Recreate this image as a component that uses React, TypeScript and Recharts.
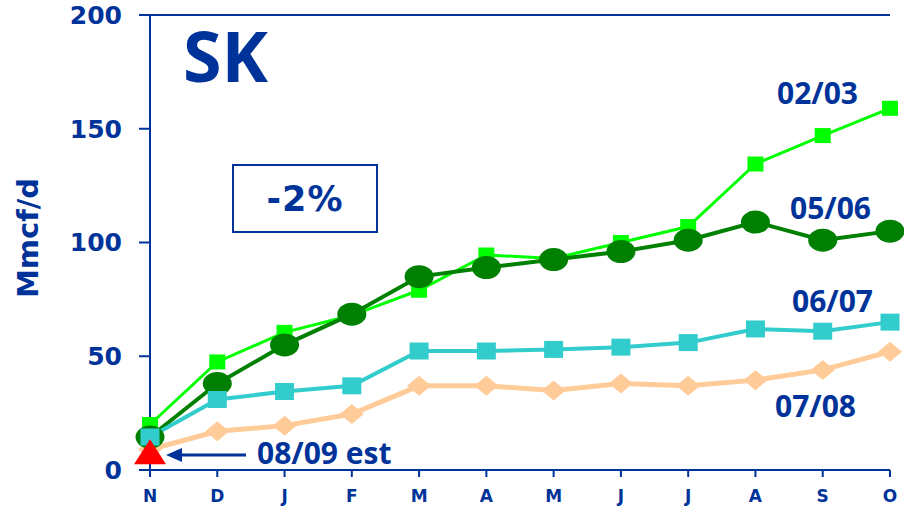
import { LineChart, Line, XAxis, YAxis, ReferenceLine } from 'recharts';

const months = ['N', 'D', 'J', 'F', 'M', 'A', 'M', 'J', 'J', 'A', 'S', 'O'];
const y0203 = [20, 47.5, 60.5, 68, 79, 94.5, 93, 100, 107, 134.5, 147, 159];
const y0506 = [14.5, 38, 55, 68.5, 85, 89, 92.5, 96, 101, 109, 101, 105];
const y0607 = [14.5, 31, 34.5, 37, 52.3, 52.3, 53, 54, 56, 62, 61, 65];
const y0708 = [9, 17, 19.5, 24.6, 37, 37, 35, 38, 37, 39.5, 44, 52];
const y0809 = [6];
const yTicks = [0, 50, 100, 150, 200];

const BLUE = '#003399';

const data = months.map((m, i) => ({
  m,
  s0203: y0203[i],
  s0506: y0506[i],
  s0607: y0607[i],
  s0708: y0708[i],
  s0809: y0809[i] ?? null,
}));

const Square = (w: number, h: number, fill: string) => (p: any) => {
  if (p.cx == null || p.cy == null) return <g key={p.key} />;
  return <rect key={p.key} x={p.cx - w / 2} y={p.cy - h / 2} width={w} height={h} fill={fill} />;
};

const Ellipse = (p: any) => {
  if (p.cx == null || p.cy == null) return <g key={p.key} />;
  return <ellipse key={p.key} cx={p.cx} cy={p.cy} rx={14.5} ry={11.5} fill="#008000" />;
};

const Diamond = (p: any) => {
  if (p.cx == null || p.cy == null) return <g key={p.key} />;
  const { cx, cy } = p;
  return (
    <polygon
      key={p.key}
      points={`${cx},${cy - 10} ${cx + 12},${cy} ${cx},${cy + 10} ${cx - 12},${cy}`}
      fill="#FFCC99"
    />
  );
};

const Triangle = (p: any) => {
  if (p.cx == null || p.cy == null) return <g key={p.key} />;
  const { cx, cy } = p;
  return (
    <polygon
      key={p.key}
      points={`${cx},${cy - 17} ${cx + 16},${cy + 8} ${cx - 16},${cy + 8}`}
      fill="#FF0000"
    />
  );
};

const label = {
  position: 'absolute' as const,
  fontFamily: '"Open Sans", sans-serif',
  fontWeight: 700,
  color: BLUE,
  whiteSpace: 'nowrap' as const,
  lineHeight: 1,
};

export default function App() {
  return (
    <div style={{ position: 'absolute', left: 0, top: 0, width: 904, height: 509, background: '#fff' }}>
      <LineChart width={904} height={509} data={data} margin={{ top: 15, right: 14, bottom: 0, left: 0 }}>
        <XAxis
          dataKey="m"
          height={39}
          stroke={BLUE}
          strokeWidth={2}
          tickSize={7}
          tickMargin={13}
          tick={{ fill: BLUE, fontSize: 17, fontWeight: 700, fontFamily: '"DejaVu Sans", sans-serif' }}
        />
        <YAxis
          domain={[0, 200]}
          ticks={yTicks}
          width={150}
          stroke={BLUE}
          strokeWidth={2}
          tickSize={11}
          tickMargin={17}
          tick={{ fill: BLUE, fontSize: 25, fontWeight: 700, fontFamily: '"DejaVu Sans", sans-serif' }}
        />
        <ReferenceLine y={200} stroke={BLUE} strokeWidth={2} />
        <ReferenceLine x="O" stroke={BLUE} strokeWidth={2} />
        <Line dataKey="s0708" stroke="#FFCC99" strokeWidth={5} dot={Diamond} isAnimationActive={false} />
        <Line dataKey="s0203" stroke="#00FF00" strokeWidth={3} dot={Square(16, 15, '#00FF00')} isAnimationActive={false} />
        <Line dataKey="s0506" stroke="#008000" strokeWidth={4} dot={Ellipse} isAnimationActive={false} />
        <Line dataKey="s0607" stroke="#33CCCC" strokeWidth={4} dot={Square(19, 17, '#33CCCC')} isAnimationActive={false} />
        <Line dataKey="s0809" stroke="#FF0000" dot={Triangle} connectNulls={false} isAnimationActive={false} />
      </LineChart>

      <div
        style={{
          ...label,
          fontFamily: '"DejaVu Sans", sans-serif',
          fontSize: 29,
          left: 28,
          top: 238,
          transform: 'translate(-50%, -50%) rotate(-90deg)',
        }}
      >
        Mmcf/d
      </div>
      <div style={{ ...label, fontSize: 70, left: 183, top: 20 }}>SK</div>
      <div
        style={{
          position: 'absolute',
          left: 232,
          top: 164,
          width: 142,
          height: 65,
          border: `2px solid ${BLUE}`,
          display: 'flex',
          alignItems: 'center',
          justifyContent: 'center',
          color: BLUE,
          fontFamily: '"DejaVu Sans", sans-serif',
          fontWeight: 700,
          fontSize: 35,
          letterSpacing: 1,
        }}
      >
        -2%
      </div>
      <div style={{ ...label, fontSize: 30, left: 777, top: 78 }}>02/03</div>
      <div style={{ ...label, fontSize: 30, left: 790, top: 193 }}>05/06</div>
      <div style={{ ...label, fontSize: 30, left: 792, top: 286 }}>06/07</div>
      <div style={{ ...label, fontSize: 30, left: 775, top: 391 }}>07/08</div>
      <div style={{ ...label, fontSize: 30, left: 257, top: 438 }}>08/09 est</div>
      <svg style={{ position: 'absolute', left: 0, top: 0 }} width={904} height={509}>
        <line x1={180} y1={455} x2={246} y2={455} stroke={BLUE} strokeWidth={3} />
        <polygon points="166,455 182,448 182,462" fill={BLUE} />
      </svg>
    </div>
  );
}
